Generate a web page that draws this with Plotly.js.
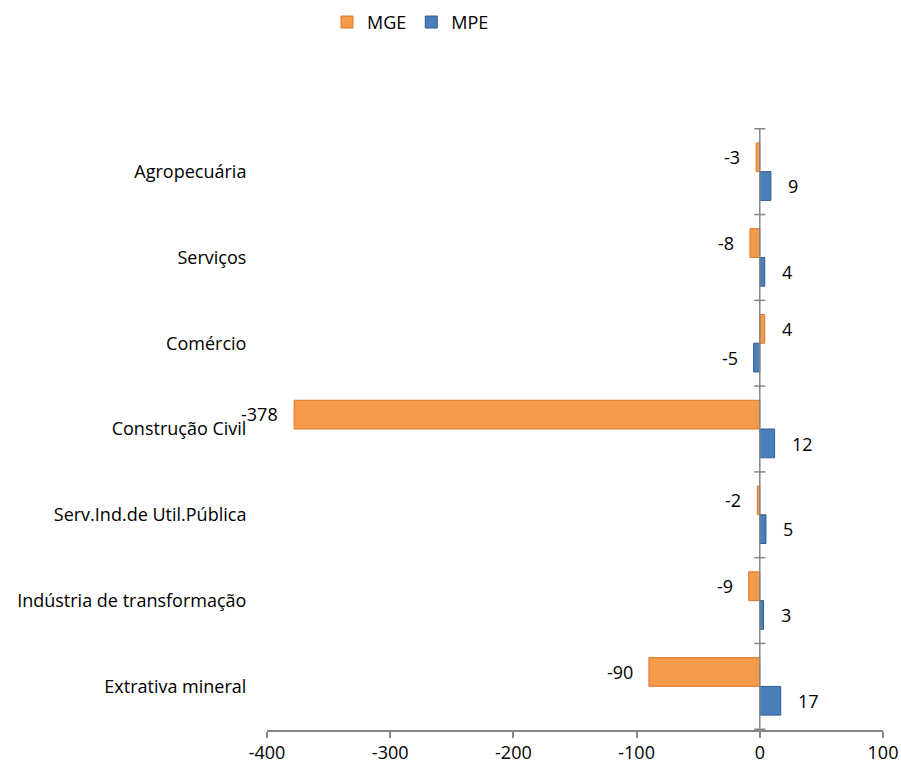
<!DOCTYPE html>
<html>
<head>
<meta charset="utf-8">
<script src="https://cdn.plot.ly/plotly-3.0.1.min.js"></script>
<style>body{margin:0;background:#fff}</style>
</head>
<body>
<div id="myChart" style="width:901px;height:767px;"></div>
<script>
// categories, top to bottom
const setores = ["Agropecuária", "Serviços", "Comércio", "Construção Civil",
  "Serv.Ind.de Util.Pública", "Indústria de transformação", "Extrativa mineral"];
const mge = [-3, -8, 4, -378, -2, -9, -90];
const mpe = [9, 4, -5, 12, 5, 3, 17];
const xTicks = [-400, -300, -200, -100, 0, 100];

const fontFam = "'Open Sans', sans-serif";

const data = [
  {
    name: "MGE", x: mge, y: setores, type: "bar", orientation: "h",
    marker: {color: "#F79A4A", line: {color: "#D9782C", width: 1}},
    hoverinfo: "x"
  },
  {
    name: "MPE", x: mpe, y: setores, type: "bar", orientation: "h",
    marker: {color: "#4A7EBB", line: {color: "#2F5E93", width: 1}},
    hoverinfo: "x"
  }
];

// value labels beside each bar
const annots = [];
const off = 0.17;
function addLabels(vals, shift) {
  vals.forEach(function (v, i) {
    annots.push({
      x: v, y: i + shift, xref: "x", yref: "y",
      text: String(v), showarrow: false,
      xanchor: v < 0 ? "right" : "left",
      xshift: v < 0 ? -14 : 15,
      font: {family: fontFam, size: 18, color: "#000"}
    });
  });
}
addLabels(mge, -off);
addLabels(mpe, off);

// tick marks on the zero line at category boundaries
const shapes = [{
  type: "line", xref: "x", yref: "y", x0: 0, x1: 0, y0: -0.5, y1: setores.length - 0.5,
  line: {color: "#868686", width: 1.5}
}];
for (let i = 0; i <= setores.length; i++) {
  shapes.push({
    type: "line", xref: "x", yref: "y", x0: -4.5, x1: 4.5, y0: i - 0.5, y1: i - 0.5,
    line: {color: "#868686", width: 1.5}
  });
}

const layout = {
  width: 901, height: 767,
  margin: {l: 267, r: 18, t: 128, b: 37},
  barmode: "group",
  bargap: 0.33,
  bargroupgap: 0,
  showlegend: true,
  legend: {
    orientation: "h", xref: "container", yref: "container",
    x: 327 / 901, xanchor: "left", y: 0.995, yanchor: "top",
    font: {family: fontFam, size: 18, color: "#000"},
    itemwidth: 20, tracegroupgap: 0
  },
  font: {family: fontFam, size: 18, color: "#000"},
  xaxis: {
    range: [-400, 100], tickvals: xTicks, ticktext: xTicks.map(String),
    showgrid: false, zeroline: false,
    showline: true, linecolor: "#868686", linewidth: 1.5,
    ticks: "outside", ticklen: 6, tickcolor: "#868686", tickwidth: 1.5,
    tickfont: {family: fontFam, size: 18, color: "#000"}
  },
  yaxis: {
    autorange: "reversed", type: "category",
    showgrid: false, zeroline: false, showline: false,
    ticks: "outside", ticklen: 16, tickcolor: "rgba(0,0,0,0)",
    tickfont: {family: fontFam, size: 18, color: "#000"}
  },
  annotations: annots,
  shapes: shapes,
  plot_bgcolor: "#fff", paper_bgcolor: "#fff"
};

Plotly.newPlot("myChart", data, layout, {displayModeBar: false});
</script>
</body>
</html>
